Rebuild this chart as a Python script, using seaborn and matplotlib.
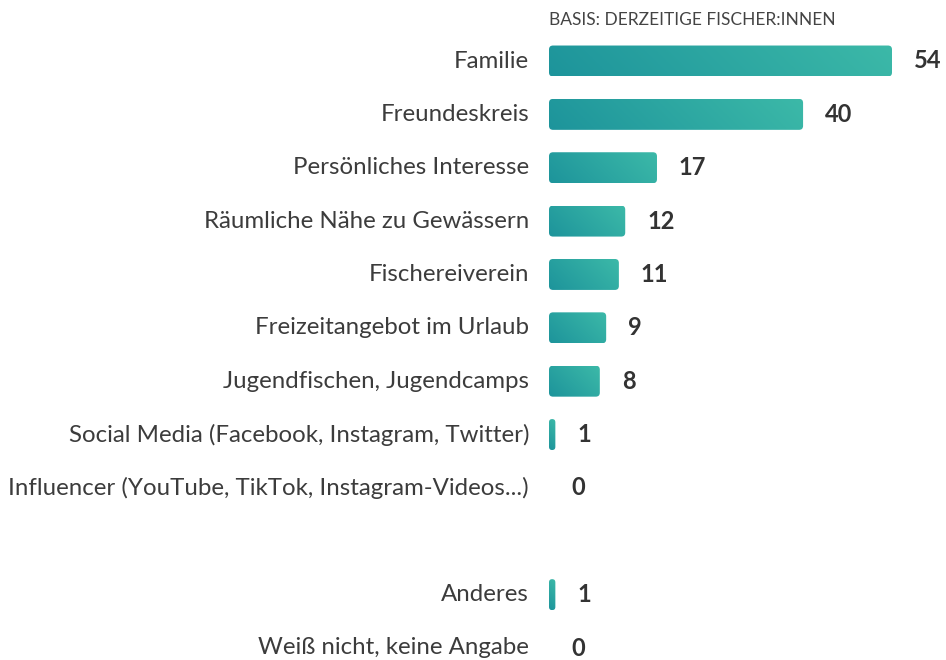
import numpy as np
import pandas as pd
import matplotlib
matplotlib.use("Agg")
import matplotlib.pyplot as plt
import seaborn as sns
from matplotlib.colors import LinearSegmentedColormap
from matplotlib.patches import FancyBboxPatch

# data
categories = [
    "Familie",
    "Freundeskreis",
    "Persönliches Interesse",
    "Räumliche Nähe zu Gewässern",
    "Fischereiverein",
    "Freizeitangebot im Urlaub",
    "Jugendfischen, Jugendcamps",
    "Social Media (Facebook, Instagram, Twitter)",
    "Influencer (YouTube, TikTok, Instagram-Videos...)",
    "",
    "Anderes",
    "Weiß nicht, keine Angabe",
]
values = [54, 40, 17, 12, 11, 9, 8, 1, 0, np.nan, 1, 0]
header = "BASIS: DERZEITIGE FISCHER:INNEN"

df = pd.DataFrame({"pos": range(len(categories)), "cat": categories, "val": values})

sns.set_style("white")
plt.rcParams["font.family"] = ["Lato", "DejaVu Sans"]

W, H = 946, 660
fig = plt.figure(figsize=(W / 100, H / 100), dpi=100)
# axes placed so that bars start at x=549 px
xmax = 60
px_per_unit = (892 - 549) / 54
ax_w = xmax * px_per_unit
ax = fig.add_axes([549 / W, 0, ax_w / W, 1])

sns.barplot(data=df, y="pos", x="val", orient="h", order=list(range(len(categories))),
            color="#2aa6a2", width=0.58, ax=ax, native_scale=True)

row0, rowstep = 61, (648 - 61) / 11
ylo = -row0 / rowstep
yhi = (H - row0) / rowstep
ax.set_xlim(0, xmax)
ax.set_ylim(yhi, ylo)

cmap = LinearSegmentedColormap.from_list("teal", ["#1d949b", "#3cb9a8"])

r_px = 4.0
for p in list(ax.patches):
    x0, y0 = p.get_x(), p.get_y()
    w, h = p.get_width(), p.get_height()
    p.set_visible(False)
    if not np.isfinite(w) or w <= 0:
        continue
    w_px, h_px = w * px_per_unit, h * rowstep
    # 45 degree gradient in screen space, dark bottom-left -> light top-right
    uu, vv = np.meshgrid(np.linspace(0, w_px, 200), np.linspace(h_px, 0, 40))
    grad = (uu + vv) / (w_px + h_px)
    rx = min(r_px / px_per_unit, w / 2)
    asp = (r_px / rowstep) / (r_px / px_per_unit)
    box = FancyBboxPatch((x0, y0), w, h,
                         boxstyle=f"round,pad=0,rounding_size={rx}",
                         mutation_aspect=asp, facecolor="none", edgecolor="none")
    ax.add_patch(box)
    # y axis is inverted: top of bar is y0
    im = ax.imshow(grad, cmap=cmap, extent=(x0, x0 + w, y0 + h, y0),
                   aspect="auto", interpolation="bilinear", zorder=2,
                   vmin=0, vmax=1)
    im.set_clip_path(box)

ax.set_xlim(0, xmax)
ax.set_ylim(yhi, ylo)

for pos, cat, val in zip(df["pos"], df["cat"], df["val"]):
    if cat == "":
        continue
    ax.text(-20 / px_per_unit, pos, cat, ha="right", va="center",
            fontsize=17.3, color="#3c3c3c")
    ax.text(val + 22 / px_per_unit, pos, f"{int(val)}", ha="left", va="center",
            fontsize=17, fontweight="bold", color="#333333")

fig.text(549 / W, 1 - 20 / H, header, ha="left", va="center",
         fontsize=12.5, color="#444444")

ax.axis("off")
fig.savefig("out.png", dpi=100)
